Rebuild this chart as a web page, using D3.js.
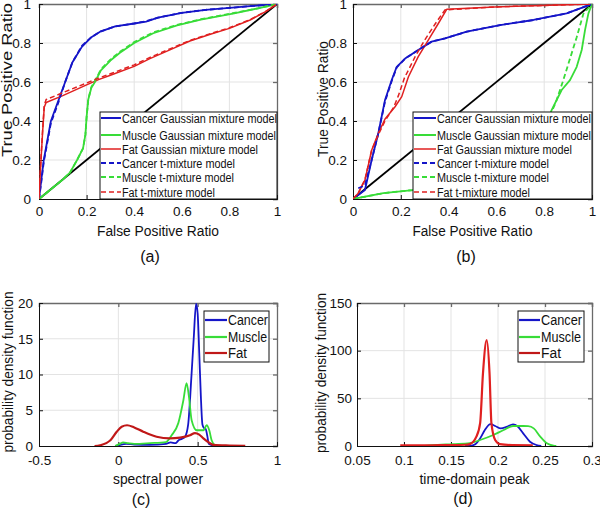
<!DOCTYPE html>
<html><head><meta charset="utf-8">
<script src="https://cdn.jsdelivr.net/npm/d3@7"></script>
<style>body{margin:0;background:#fff}svg{display:block}text{font-family:"Liberation Sans",Arial,sans-serif}</style>
</head><body><svg id="c" width="600" height="512"></svg>
<script>
// ---------- DATA ----------
const rocTicks = [0, 0.2, 0.4, 0.6, 0.8, 1];
const rocTickLabels = ["0", "0.2", "0.4", "0.6", "0.8", "1"];
const diagonal = [[0, 0], [1, 1]];
// (a) ROC curves [FPR, TPR]
const aCancerGMM = [[0,0],[0.01,0.1],[0.02,0.2],[0.035,0.3],[0.05,0.4],[0.08,0.5],[0.11,0.6],[0.14,0.7],[0.18,0.78],[0.22,0.83],[0.26,0.86],[0.32,0.885],[0.4,0.9],[0.45,0.91],[0.5,0.93],[0.6,0.955],[0.7,0.97],[0.8,0.98],[0.9,0.99],[1,1]];
const aMuscleGMM = [[0,0],[0.05,0.05],[0.1,0.1],[0.13,0.135],[0.16,0.2],[0.185,0.26],[0.195,0.33],[0.2,0.42],[0.207,0.51],[0.22,0.57],[0.235,0.6],[0.26,0.66],[0.3,0.71],[0.34,0.75],[0.4,0.8],[0.48,0.85],[0.58,0.89],[0.68,0.92],[0.82,0.952],[0.92,0.978],[1,1]];
const aFatGMM = [[0,0],[0.007,0.17],[0.015,0.34],[0.022,0.47],[0.03,0.495],[0.1,0.53],[0.2,0.585],[0.25,0.612],[0.3,0.635],[0.4,0.68],[0.466,0.72],[0.55,0.765],[0.634,0.81],[0.72,0.845],[0.8,0.875],[0.887,0.918],[0.95,0.96],[1,1]];
const aCancerT = [[0,0],[0.01,0.09],[0.02,0.19],[0.035,0.29],[0.05,0.39],[0.08,0.49],[0.11,0.6],[0.14,0.7],[0.18,0.785],[0.22,0.83],[0.26,0.86],[0.32,0.885],[0.4,0.9],[0.45,0.912],[0.5,0.93],[0.6,0.955],[0.7,0.97],[0.8,0.98],[0.9,0.99],[1,1]];
const aMuscleT = [[0,0],[0.05,0.05],[0.1,0.1],[0.13,0.135],[0.16,0.2],[0.185,0.26],[0.195,0.33],[0.2,0.42],[0.207,0.51],[0.22,0.575],[0.235,0.605],[0.26,0.665],[0.3,0.715],[0.34,0.755],[0.4,0.805],[0.48,0.855],[0.58,0.893],[0.68,0.922],[0.82,0.954],[0.92,0.978],[1,1]];
const aFatT = [[0,0],[0.007,0.18],[0.015,0.35],[0.022,0.48],[0.03,0.51],[0.1,0.545],[0.2,0.595],[0.25,0.62],[0.3,0.642],[0.4,0.688],[0.466,0.726],[0.55,0.77],[0.634,0.813],[0.72,0.848],[0.8,0.878],[0.887,0.92],[0.95,0.96],[1,1]];
// (b) ROC curves
const bCancerGMM = [[0,0],[0.05,0.046],[0.078,0.2],[0.106,0.337],[0.134,0.508],[0.162,0.61],[0.183,0.678],[0.218,0.72],[0.273,0.764],[0.329,0.807],[0.385,0.824],[0.476,0.858],[0.615,0.892],[0.755,0.918],[0.894,0.952],[1,1]];
const bMuscleGMM = [[0,0],[0.127,0.03],[0.25,0.046],[0.4,0.08],[0.55,0.13],[0.7,0.22],[0.8,0.35],[0.831,0.456],[0.873,0.559],[0.908,0.61],[0.936,0.678],[0.957,0.764],[0.971,0.867],[0.985,0.952],[1,1]];
const bFatGMM = [[0,0],[0.022,0.03],[0.05,0.097],[0.078,0.25],[0.106,0.337],[0.134,0.41],[0.176,0.473],[0.204,0.525],[0.232,0.627],[0.273,0.73],[0.315,0.815],[0.357,0.9],[0.392,0.973],[0.615,0.986],[1,1]];
const bCancerT = [[0.022,0.055],[0.05,0.07],[0.078,0.2],[0.106,0.337],[0.134,0.5],[0.162,0.605],[0.183,0.675],[0.218,0.72],[0.273,0.764],[0.329,0.807],[0.385,0.824],[0.476,0.858],[0.615,0.892],[0.755,0.918],[0.894,0.952],[1,1]];
const bMuscleT = [[0,0],[0.127,0.03],[0.25,0.046],[0.4,0.08],[0.55,0.13],[0.7,0.22],[0.8,0.36],[0.85,0.5],[0.88,0.61],[0.908,0.72],[0.936,0.83],[0.964,0.95],[1,1]];
const bFatT = [[0,0],[0.022,0.03],[0.05,0.1],[0.078,0.25],[0.106,0.33],[0.134,0.4],[0.17,0.47],[0.19,0.53],[0.215,0.62],[0.26,0.73],[0.3,0.815],[0.345,0.9],[0.385,0.97],[0.615,0.986],[1,1]];
const rocLegend = ["Cancer Gaussian mixture model","Muscle Gaussian mixture model","Fat Gaussian mixture model","Cancer t-mixture model","Muscle t-mixture model","Fat t-mixture model"];
// (c) spectral power pdf [x, density]
const cTicksX = [-0.5, 0, 0.5, 1];
const cTickLabelsX = ["-0.5", "0", "0.5", "1"];
const cTicksY = [0, 5, 10, 15, 20];
const cCancer = [[-0.02,0],[0,0.1],[0.05,0.3],[0.1,0.2],[0.2,0.15],[0.3,0.3],[0.33,0.5],[0.36,0.4],[0.38,0.8],[0.4,1.0],[0.42,1.3],[0.44,3.0],[0.46,9.5],[0.475,15],[0.49,19.9],[0.5,18.5],[0.51,13],[0.52,7],[0.53,3],[0.54,2.5],[0.55,2.4],[0.56,1.5],[0.57,0.3],[0.6,0.05],[0.62,0]];
const cMuscle = [[-0.02,0],[0.01,0.3],[0.03,0.5],[0.06,0.4],[0.1,0.3],[0.2,0.4],[0.3,0.55],[0.336,1.5],[0.378,3.2],[0.41,6.4],[0.43,8.8],[0.445,6.9],[0.462,3.6],[0.494,2.2],[0.536,2.2],[0.557,2.9],[0.573,2.2],[0.588,0.8],[0.61,0.1],[0.63,0]];
const cFat = [[-0.15,0],[-0.115,0.1],[-0.05,0.8],[-0.01,2.0],[0.021,2.7],[0.055,2.9],[0.1,2.6],[0.157,2.0],[0.241,1.3],[0.326,1.07],[0.389,1.17],[0.452,1.5],[0.483,1.8],[0.51,1.6],[0.536,1.07],[0.578,0.38],[0.6,0.15],[0.7,0.07],[0.8,0.03]];
// (d) time-domain peak pdf
const dTicksX = [0.05, 0.1, 0.15, 0.2, 0.25, 0.3];
const dTickLabelsX = ["0.05", "0.1", "0.15", "0.2", "0.25", "0.3"];
const dTicksY = [0, 50, 100, 150];
const dCancer = [[0.165,0],[0.172,0.5],[0.177,2.8],[0.181,8],[0.186,16.8],[0.192,23],[0.197,21],[0.203,18.5],[0.209,20],[0.216,22.7],[0.221,20.5],[0.227,13],[0.234,4.5],[0.241,1],[0.246,0]];
const dMuscle = [[0.12,0],[0.13,0.8],[0.152,2],[0.17,3],[0.181,6.3],[0.195,11.5],[0.206,16.8],[0.216,21],[0.227,21],[0.232,20.8],[0.238,18.5],[0.245,9.8],[0.252,2.8],[0.259,0.3],[0.262,0]];
const dFat = [[0.096,0.6],[0.11,0.6],[0.13,0.8],[0.15,1],[0.165,1.3],[0.17,2],[0.177,9.8],[0.181,24],[0.184,76],[0.188,111],[0.191,76],[0.193,24],[0.197,6.3],[0.202,2],[0.215,1],[0.237,0.8]];
const pdfLegend = ["Cancer", "Muscle", "Fat"];

// ---------- STYLE ----------
const BLUE = "#1515c8", GREEN = "#38dc38", RED = "#e02020", DRED = "#c01818";
const svg = d3.select("#c");

function panel(o) {
  const x = d3.scaleLinear().domain(o.xd).range([o.l, o.r]);
  const y = d3.scaleLinear().domain(o.yd).range([o.b, o.t]);
  const g = svg.append("g");
  const cid = "clip" + o.id;
  svg.append("clipPath").attr("id", cid).append("rect").attr("x", o.l).attr("y", o.t).attr("width", o.r - o.l).attr("height", o.b - o.t);
  g.append("g").selectAll("line").data(o.xt.slice(1, -1)).join("line")
    .attr("x1", d => x(d)).attr("x2", d => x(d)).attr("y1", o.t).attr("y2", o.b).attr("stroke", "#e3e3e3");
  g.append("g").selectAll("line").data(o.yt.slice(1, -1)).join("line")
    .attr("y1", d => y(d)).attr("y2", d => y(d)).attr("x1", o.l).attr("x2", o.r).attr("stroke", "#e3e3e3");
  const ax = d3.axisBottom(x).tickValues(o.xt).tickFormat((d, i) => o.xl[i]).tickSize(-4).tickPadding(o.xpad);
  const ay = d3.axisLeft(y).tickValues(o.yt).tickFormat((d, i) => o.yl[i]).tickSize(-4).tickPadding(o.ypad);
  const axt = d3.axisTop(x).tickValues(o.xt).tickFormat("").tickSize(-4);
  const ayr = d3.axisRight(y).tickValues(o.yt).tickFormat("").tickSize(-4);
  g.append("g").attr("transform", `translate(0,${o.t})`).call(axt).call(s => s.selectAll("path,line").attr("stroke", "#6a6a6a").attr("stroke-width", 1.3));
  g.append("g").attr("transform", `translate(${o.r},0)`).call(ayr).call(s => s.selectAll("path,line").attr("stroke", "#6a6a6a").attr("stroke-width", 1.3));
  const gx = g.append("g").attr("transform", `translate(0,${o.b})`).call(ax);
  const gy = g.append("g").attr("transform", `translate(${o.l},0)`).call(ay);
  [gx, gy].forEach(s => { s.selectAll("path,line").attr("stroke", "#111"); s.selectAll("text").attr("font-size", 13.5).attr("fill", "#111").attr("font-family", "Liberation Sans, Arial, sans-serif"); });
  gx.selectAll("text").attr("dy", "0.71em");
  svg.append("text").attr("x", (o.l + o.r) / 2).attr("y", o.xlabY).attr("text-anchor", "middle").attr("font-size", 15.5).attr("fill", "#111")
    .attr("textLength", o.xlabLen).attr("lengthAdjust", "spacingAndGlyphs").text(o.xlab);
  svg.append("text").attr("transform", `translate(${o.ylabX},${o.ylabC}) rotate(-90)`).attr("text-anchor", "middle").attr("font-size", o.ylabFs).attr("fill", "#111")
    .attr("textLength", o.ylabLen).attr("lengthAdjust", "spacingAndGlyphs").text(o.ylab);
  svg.append("text").attr("x", o.capX).attr("y", o.capY).attr("text-anchor", "middle").attr("font-size", 16)
    .attr("font-family", "Liberation Serif, Times New Roman, serif").attr("fill", "#111").text(o.cap);
  const plot = svg.append("g").attr("clip-path", `url(#${cid})`);
  return { x, y, plot };
}

function drawLines(p, series, curve) {
  const line = d3.line().x(d => p.x(d[0])).y(d => p.y(d[1])).curve(curve);
  series.forEach(s => {
    p.plot.append("path").datum(s.data).attr("d", line).attr("fill", "none").attr("stroke", s.color)
      .attr("stroke-width", s.w).attr("stroke-dasharray", s.dash || null).attr("stroke-linejoin", "round");
  });
}

function legend(items, box, lineLen, fs, rowY) {
  const g = svg.append("g");
  g.append("rect").attr("x", box.x).attr("y", box.y).attr("width", box.w).attr("height", box.h).attr("fill", "#fff").attr("stroke", "#111").attr("stroke-width", 1);
  items.forEach((it, i) => {
    const yy = rowY[i];
    g.append("line").attr("x1", box.x + 1).attr("x2", box.x + 1 + lineLen).attr("y1", yy).attr("y2", yy)
      .attr("stroke", it.color).attr("stroke-width", it.w).attr("stroke-dasharray", it.dash || null);
    g.append("text").attr("x", box.x + lineLen + 2).attr("y", yy).attr("dy", "0.36em").attr("font-size", fs).attr("fill", "#111")
      .attr("textLength", it.len || null).attr("lengthAdjust", "spacingAndGlyphs").text(it.label);
  });
}

// ---------- PANEL A ----------
const pa = panel({ id: "a", l: 39, r: 277, t: 4, b: 199, xd: [0, 1], yd: [0, 1], xt: rocTicks, yt: rocTicks, xl: rocTickLabels, yl: rocTickLabels, xpad: 7, ypad: 8,
  xlab: "False Positive Ratio", xlabY: 236, xlabLen: 122, ylab: "True Positive Ratio", ylabFs: 14, ylabX: 12, ylabC: 80, ylabLen: 154, cap: "(a)", capX: 150, capY: 262 });
const rocSeries = (c, m, f, ct, mt, ft) => [
  { data: diagonal, color: "#000", w: 1.8 },
  { data: c, color: BLUE, w: 1.8 }, { data: m, color: GREEN, w: 1.8 }, { data: f, color: RED, w: 1.5 },
  { data: ct, color: BLUE, w: 1.8, dash: "5,3" }, { data: mt, color: GREEN, w: 1.8, dash: "5,3" }, { data: ft, color: RED, w: 1.5, dash: "5,3" }];
drawLines(pa, rocSeries(aCancerGMM, aMuscleGMM, aFatGMM, aCancerT, aMuscleT, aFatT), d3.curveLinear);
const rocLegItems = rocLegend.map((lab, i) => ({ label: lab, color: [BLUE, GREEN, RED][i % 3], w: i % 3 === 2 ? 1.5 : 2, dash: i >= 3 ? "5,3" : null }));
const rocRows = [118, 135, 149, 163, 177, 192];
const rocLens = [155, 154, 136, 113, 112, 93];
legend(rocLegItems.map((d, i) => ({ ...d, len: rocLens[i] })), { x: 100, y: 112, w: 177, h: 87 }, 20, 12.5, rocRows);

// ---------- PANEL B ----------
const pb = panel({ id: "b", l: 353, r: 592, t: 4, b: 199, xd: [0, 1], yd: [0, 1], xt: rocTicks, yt: rocTicks, xl: rocTickLabels, yl: rocTickLabels, xpad: 7, ypad: 6,
  xlab: "False Positive Ratio", xlabY: 236, xlabLen: 120, ylab: "True Positive Ratio", ylabFs: 15, ylabX: 328, ylabC: 99, ylabLen: 116, cap: "(b)", capX: 466, capY: 262 });
drawLines(pb, rocSeries(bCancerGMM, bMuscleGMM, bFatGMM, bCancerT, bMuscleT, bFatT), d3.curveLinear);
legend(rocLegItems.map((d, i) => ({ ...d, len: [154, 154, 135, 112, 112, 93][i] })), { x: 413, y: 112, w: 179, h: 87 }, 22, 12.5, rocRows);

// ---------- PANEL C ----------
const pc = panel({ id: "c", l: 39, r: 277, t: 303, b: 446, xd: [-0.5, 1], yd: [0, 20], xt: cTicksX, yt: cTicksY, xl: cTickLabelsX, yl: cTicksY.map(String), xpad: 9, ypad: 6,
  xlab: "spectral power", xlabY: 484, xlabLen: 90, ylab: "probability density function", ylabFs: 15, ylabX: 13, ylabC: 372, ylabLen: 161, cap: "(c)", capX: 141, capY: 505 });
const pdfSeries = (c, m, f) => [{ data: c, color: BLUE, w: 1.8 }, { data: m, color: GREEN, w: 1.8 }, { data: f, color: DRED, w: 2.2 }];
drawLines(pc, pdfSeries(cCancer, cMuscle, cFat), d3.curveMonotoneX);
const pdfLegItems = pdfLegend.map((lab, i) => ({ label: lab, color: [BLUE, GREEN, DRED][i], w: 2.2 }));
legend(pdfLegItems.map((d, i) => ({ ...d, len: [40, 39, 19][i] })), { x: 204, y: 311, w: 65, h: 51 }, 22, 14, [320, 337, 353]);

// ---------- PANEL D ----------
const pd = panel({ id: "d", l: 357, r: 592, t: 303, b: 446, xd: [0.05, 0.3], yd: [0, 150], xt: dTicksX, yt: dTicksY, xl: dTickLabelsX, yl: dTicksY.map(String), xpad: 9, ypad: 5,
  xlab: "time-domain peak", xlabY: 484, xlabLen: 110, ylab: "probability density function", ylabFs: 15, ylabX: 326, ylabC: 373, ylabLen: 160, cap: "(d)", capX: 463, capY: 504 });
drawLines(pd, pdfSeries(dCancer, dMuscle, dFat).map(s => s.color === DRED ? { ...s, color: RED } : s), d3.curveMonotoneX);
legend(pdfLegItems.map((d, i) => ({ ...d, len: [41, 40, 20][i] })), { x: 518, y: 311, w: 66, h: 51 }, 21, 14, [320, 337, 353]);
</script></body></html>
